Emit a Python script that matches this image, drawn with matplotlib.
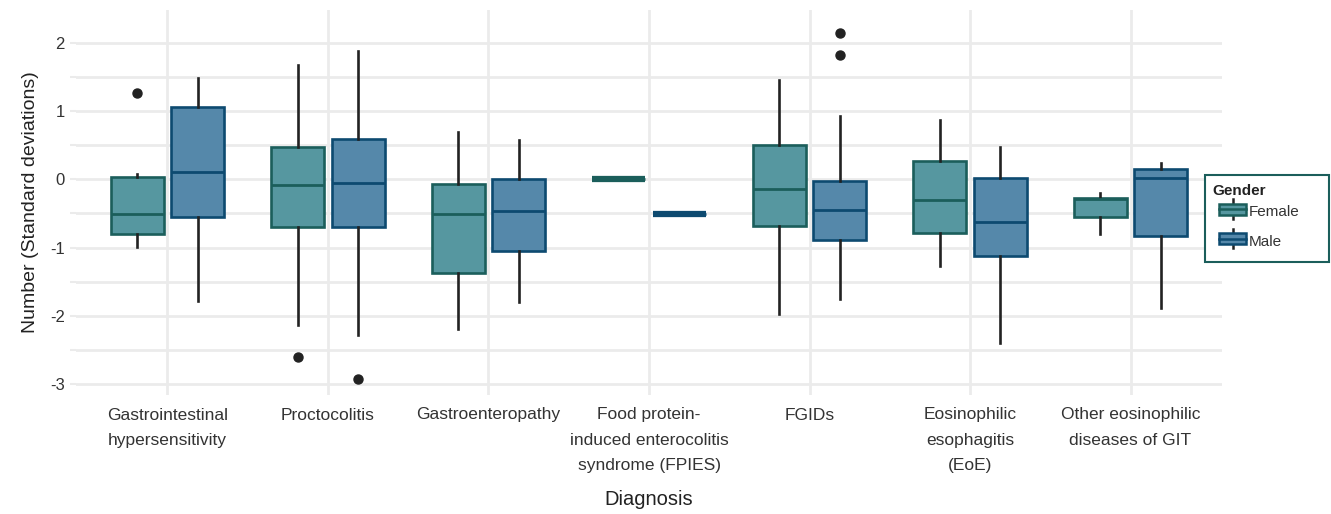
import numpy as np
import matplotlib.pyplot as plt
from matplotlib.legend_handler import HandlerBase
from matplotlib.patches import Rectangle, Patch
from matplotlib.lines import Line2D

plt.rcParams['font.family'] = ['Liberation Sans', 'DejaVu Sans']

categories = ["Gastrointestinal\nhypersensitivity", "Proctocolitis", "Gastroenteropathy",
              "Food protein-\ninduced enterocolitis\nsyndrome (FPIES)", "FGIDs",
              "Eosinophilic\nesophagitis\n(EoE)", "Other eosinophilic\ndiseases of GIT"]

# female stats per category: lower whisker, q1, median, q3, upper whisker
female_whislo = [-0.99, -2.14, -2.20, 0.0, -1.97, -1.27, -0.80]
female_q1     = [-0.80, -0.70, -1.38, 0.0, -0.68, -0.79, -0.55]
female_med    = [-0.51, -0.09, -0.51, 0.0, -0.14, -0.30, -0.29]
female_q3     = [0.04, 0.48, -0.07, 0.0, 0.50, 0.27, -0.28]
female_whishi = [0.08, 1.68, 0.70, 0.0, 1.46, 0.87, -0.20]
female_fliers = [[1.27], [-2.61], [], [], [], [], []]

male_whislo = [-1.79, -2.28, -1.80, -0.51, -1.76, -2.40, -1.89]
male_q1     = [-0.55, -0.70, -1.05, -0.51, -0.89, -1.12, -0.83]
male_med    = [0.11, -0.05, -0.46, -0.51, -0.45, -0.63, 0.02]
male_q3     = [1.06, 0.59, 0.01, -0.51, -0.02, 0.02, 0.15]
male_whishi = [1.48, 1.88, 0.57, -0.51, 0.92, 0.47, 0.24]
male_fliers = [[], [-2.93], [], [], [2.14, 1.82], [], []]

female_fill, female_edge = "#5697A0", "#1B5E5B"
male_fill, male_edge = "#5588AA", "#0D4A70"
grid_col = "#EBEBEB"
txt_col = "#333333"


def make_stats(lo, q1, med, q3, hi, fl):
    return [dict(whislo=a, q1=b, med=c, q3=d, whishi=e, fliers=f)
            for a, b, c, d, e, f in zip(lo, q1, med, q3, hi, fl)]


fig = plt.figure(figsize=(13.31, 5.14), dpi=100)
ax = fig.add_axes([76 / 1331, 1 - 395 / 514, (1222 - 76) / 1331, (395 - 10) / 514])

x = np.arange(1, len(categories) + 1)
off = 0.1875
w = 0.33

for stats, pos, fc, ec in [
        (make_stats(female_whislo, female_q1, female_med, female_q3, female_whishi, female_fliers), x - off, female_fill, female_edge),
        (make_stats(male_whislo, male_q1, male_med, male_q3, male_whishi, male_fliers), x + off, male_fill, male_edge)]:
    res = ax.bxp(stats, positions=pos, widths=w, patch_artist=True, showcaps=False,
                 boxprops=dict(facecolor=fc, edgecolor=ec, linewidth=1.9),
                 medianprops=dict(color=ec, linewidth=2.0, solid_capstyle='butt'),
                 whiskerprops=dict(color="#222222", linewidth=1.9),
                 flierprops=dict(marker='o', markerfacecolor="#222222", markeredgecolor="#222222",
                                 markersize=6.5),
                 manage_ticks=False, zorder=3)
    # FPIES: all values equal -> thick flat bar
    res['medians'][3].set_linewidth(4.5)

ax.set_xlim(0.43, 7.57)
ax.set_ylim(-3.16, 2.48)
ax.set_xticks(x)
ax.set_xticklabels(categories, fontsize=12.5, color=txt_col, linespacing=1.85)
ax.set_yticks([-3, -2, -1, 0, 1, 2])
ax.set_yticklabels(["-3", "-2", "-1", "0", "1", "2"], fontsize=12, color=txt_col)
ax.set_yticks(np.arange(-2.5, 2.5, 1.0), minor=True)
ax.tick_params(axis='y', which='both', length=4, width=1.5, color=grid_col, pad=4)
ax.tick_params(axis='x', length=0, pad=9)
ax.grid(True, which='major', color=grid_col, linewidth=2)
ax.grid(True, which='minor', axis='y', color=grid_col, linewidth=2)
ax.set_axisbelow(True)
for s in ax.spines.values():
    s.set_visible(False)

ax.set_xlabel("Diagnosis", fontsize=14.5, color="#222222", labelpad=12)
ax.set_ylabel("Number (Standard deviations)", fontsize=14, color="#222222", labelpad=8)


class BoxHandler(HandlerBase):
    def create_artists(self, legend, orig, xd, yd, width, height, fontsize, trans):
        fc = orig.get_facecolor()
        ec = orig.get_edgecolor()
        bw = width * 0.8
        x0 = xd + width - bw
        cx = x0 + bw / 2
        vl = Line2D([cx, cx], [yd - height * 0.3, yd + height * 1.3], color="#222222", lw=1.8, transform=trans)
        r = Rectangle((x0, yd + height * 0.05), bw, height * 0.9, facecolor=fc, edgecolor=ec, lw=1.8, transform=trans)
        ml = Line2D([x0, x0 + bw], [yd + height * 0.5, yd + height * 0.5], color=ec, lw=1.8, transform=trans)
        return [vl, r, ml]


# legend frame drawn separately so its size matches the original
frame = Rectangle((1205 / 1331, 1 - 262 / 514), 124 / 1331, 87 / 514, transform=fig.transFigure,
                  facecolor="white", edgecolor=female_edge, linewidth=1.5, zorder=5)
fig.patches.append(frame)

handles = [Patch(facecolor=female_fill, edgecolor=female_edge), Patch(facecolor=male_fill, edgecolor=male_edge)]
leg = fig.legend(handles, ["Female", "Male"], title="Gender", loc='upper left',
                 bbox_to_anchor=(1205 / 1331, 1 - 176 / 514), handler_map={Patch: BoxHandler()},
                 fontsize=11, title_fontsize=11, frameon=False,
                 handlelength=2.2, handleheight=0.85, handletextpad=0.15, labelspacing=1.0,
                 borderpad=0.5, borderaxespad=0)
leg.set_zorder(6)
leg.get_title().set_fontweight('bold')
leg.get_title().set_color("#222222")
leg._legend_box.align = "left"
leg._legend_box.sep = 5
for t in leg.get_texts():
    t.set_color(txt_col)

fig.savefig("out.png", dpi=100)
